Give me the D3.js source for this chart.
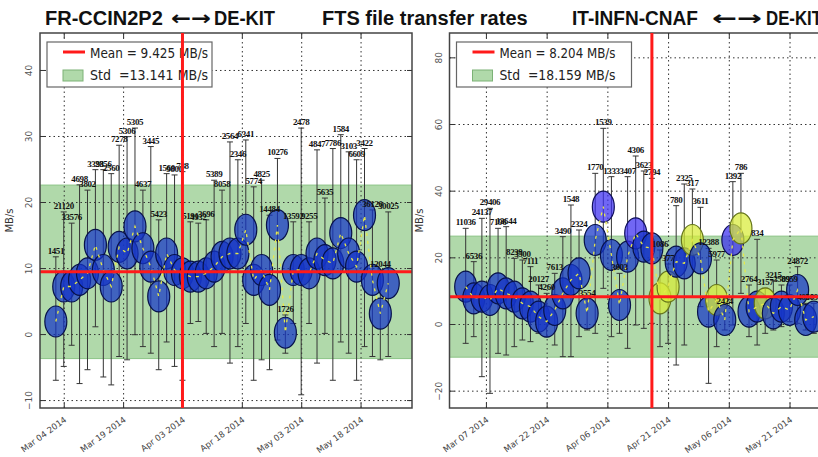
<!DOCTYPE html>
<html>
<head>
<meta charset="utf-8">
<script src="https://cdn.jsdelivr.net/npm/d3@7"></script>
<style>
  body { margin: 0; background: #fff; }
  svg { display: block; transform: translateZ(0); }
</style>
</head>
<body>
<div id="chart"></div>
<script>
// ---- data ----
const leftDates = [
  "2014-03-02","2014-03-04","2014-03-06","2014-03-08","2014-03-10","2014-03-12","2014-03-14","2014-03-16",
  "2014-03-18","2014-03-20","2014-03-22","2014-03-24","2014-03-26","2014-03-28","2014-03-30","2014-04-01",
  "2014-04-03","2014-04-05","2014-04-07","2014-04-09","2014-04-11","2014-04-13","2014-04-15","2014-04-17",
  "2014-04-19","2014-04-21","2014-04-23","2014-04-25","2014-04-27","2014-04-29","2014-05-01","2014-05-03",
  "2014-05-05","2014-05-07","2014-05-09","2014-05-11","2014-05-13","2014-05-15","2014-05-17","2014-05-19",
  "2014-05-21","2014-05-23","2014-05-25"];
const leftValues = [1.9, 7.2, 7.2, 8.2, 9.2, 13.5, 9.7, 7.2, 13.2, 12.2, 16.3, 13.0, 10.2, 5.7, 12.2, 9.7,
  9.2, 8.7, 8.7, 9.2, 10.2, 11.7, 12.2, 12.2, 15.8, 8.2, 9.7, 6.7, 16.5, 0.2, 9.7, 9.7,
  9.2, 12.2, 11.2, 10.7, 15.3, 12.2, 10.2, 18.0, 8.2, 3.1, 7.7];
const leftHigh = [11.7, 18.5, 16.8, 22.6, 21.8, 24.9, 24.9, 24.3, 28.6, 29.9, 31.2, 21.8, 28.4, 17.3, 24.3, 24.1,
  24.6, 17.0, 16.8, 17.3, 23.3, 21.8, 29.1, 26.4, 29.4, 22.3, 23.3, 18.0, 26.6, 2.9, 17.0, 31.2,
  17.0, 27.9, 20.6, 28.1, 30.2, 27.6, 26.4, 28.1, 18.8, 9.7, 18.5];
const leftLow = [-7.0, -4.9, -1.7, -7.5, -5.4, 1.1, -6.5, -7.7, -3.4, -3.9, -0.1, -1.9, -2.9, -5.4, -1.2, -4.9,
  -7.0, 1.6, 1.9, 0.1, -1.9, 0.1, -4.4, -1.9, 1.6, -7.0, -3.9, -5.4, -0.9, -2.9, 1.6, -9.2,
  1.6, -4.4, 0.1, -7.0, -1.2, -2.9, -7.0, -1.9, -3.4, -3.9, -3.4];
const leftLabels = ["1451","21120","33576","4698","3802","3393","2856","2560","7278","5306","5305","4637",
  "3445","5423","1560","9800","788","5191","4932","3696","5389","8058","2564","2346","6341","5774",
  "4825","14484","10276","1726","13592","2478","9255","4847","5635","7786","1584","3103","6609",
  "3422","36120","12044","30025"];

const rightDates = leftDates.concat(["2014-05-27"]);
const rightValues = [11.2, 7.7, 8.2, 7.2, 10.7, 9.2, 8.2, 6.2, 5.2, 2.2, 0.7, 4.2, 9.2, 13.2, 15.2, 3.2,
  25.2, 35.2, 20.7, 5.7, 20.2, 27.2, 23.2, 22.7, 7.7, 11.2, 18.7, 18.2, 25.2, 19.7, 3.7, 7.2,
  1.2, 25.2, 28.7, 3.7, 5.2, 6.2, 3.2, 5.2, 4.2, 10.2, 1.2, 2.2];
const rightHigh = [28.7, 18.7, 31.7, 34.7, 28.7, 29.2, 19.7, 19.2, 17.2, 11.7, 9.2, 15.2, 26.2, 35.7, 28.2, 7.4,
  45.2, 58.7, 44.2, 15.2, 44.2, 50.4, 45.9, 43.7, 22.2, 18.0, 35.5, 42.0, 40.5, 35.0, 22.7, 19.2,
  5.2, 42.7, 45.2, 11.7, 25.4, 10.7, 13.0, 11.7, 11.7, 17.2, 6.2, 6.2];
const rightLow = [-5.8, -3.8, -15.8, -20.8, -8.8, -9.3, -6.8, -4.8, -5.3, -2.8, -3.8, -6.3, -9.8, -9.8, -3.8, -1.8,
  -2.8, 10.7, -3.8, -2.8, -7.3, -0.3, -1.3, 0.2, -6.8, -5.8, -12.3, -6.3, 8.2, 5.2, -17.8, -6.8,
  -1.8, -0.3, 9.2, -3.8, -6.3, -2.8, -1.8, -0.8, 0.7, 0.2, -1.8, -2.8];
const rightLabels = ["11036","6536","24137","29406","7196","13644","8239","3500","7111","20127","4260","7613",
  "3490","1548","2324","3554","1770","1539","1333","3603","3407","4306","3623","2794","1086","377",
  "780","2325","317","3611","12388","5977","2424","1392","786","2764","834","3157","3215","3509",
  "8959","24872","4010","5098"];
// b = blue, v = violet blue, y = yellow green
const rightColors = ["b","b","b","b","b","b","b","b","b","b","b","b","b","b","b","b",
  "b","v","b","b","b","v","b","b","y","y","b","b","y","b","b","y",
  "b","v","y","b","b","y","b","b","b","b","b","b"];

const leftStats = { mean: 9.425, std: 13.141 };
const rightStats = { mean: 8.204, std: 18.159 };
const leftXTicks = ["2014-03-04","2014-03-19","2014-04-03","2014-04-18","2014-05-03","2014-05-18"];
const rightXTicks = ["2014-03-07","2014-03-22","2014-04-06","2014-04-21","2014-05-06","2014-05-21"];
const leftYTicks = [-10, 0, 10, 20, 30, 40];
const rightYTicks = [-20, 0, 20, 40, 60, 80];
const leftMarker = "2014-04-03";
const rightMarker = "2014-04-17";

// ---- drawing ----
const svg = d3.select("#chart").append("svg")
  .attr("width", 818)
  .attr("height", 457);

svg.append("rect").attr("width", 818).attr("height", 457).attr("fill", "#fff");

const parse = d3.timeParse("%Y-%m-%d");
const fills = { b: "#1535c8", v: "#3a2cf0", y: "#d8ec38" };
const edges = { b: "#08124a", v: "#10105a", y: "#66761c" };

function drawPanel(p) {
  const x = d3.scaleTime()
    .domain([parse("2014-02-26"), parse("2014-05-31")])
    .range([p.left, p.right]);
  const y = d3.scaleLinear().domain(p.yDomain).range([p.bottom, p.top]);
  const w = p.right - p.left;
  const h = p.bottom - p.top;

  svg.append("clipPath").attr("id", "clip" + p.id)
    .append("rect").attr("x", p.left).attr("y", p.top).attr("width", w).attr("height", h);

  const plot = svg.append("g").attr("clip-path", `url(#clip${p.id})`);

  // std band
  plot.append("rect")
    .attr("x", p.left).attr("width", w)
    .attr("y", y(p.stats.mean + p.stats.std))
    .attr("height", y(p.stats.mean - p.stats.std) - y(p.stats.mean + p.stats.std))
    .attr("fill", "#b0d9aa")
    .attr("stroke", "#8cc486");

  // dotted grid
  plot.append("g")
    .attr("transform", `translate(0,${p.bottom})`)
    .call(d3.axisBottom(x).tickValues(p.xTicks.map(parse)).tickSize(-h).tickFormat(""))
    .call(g => g.select(".domain").remove())
    .selectAll("line").attr("stroke", "#333").attr("stroke-dasharray", "1.5,3");
  plot.append("g")
    .attr("transform", `translate(${p.left},0)`)
    .call(d3.axisLeft(y).tickValues(p.yTicks).tickSize(-w).tickFormat(""))
    .call(g => g.select(".domain").remove())
    .selectAll("line").attr("stroke", "#333").attr("stroke-dasharray", "1.5,3");

  const pts = p.dates.map((d, i) => ({
    date: parse(d), v: p.values[i], lo: p.low[i], hi: p.high[i],
    label: p.labels[i], c: p.colors ? p.colors[i] : "b"
  }));

  // error bars
  const bars = plot.append("g").attr("stroke", "#353535").attr("stroke-width", 1)
    .selectAll("g").data(pts).join("g");
  bars.append("line")
    .attr("x1", d => x(d.date)).attr("x2", d => x(d.date))
    .attr("y1", d => y(d.lo)).attr("y2", d => y(d.hi));
  bars.append("line")
    .attr("x1", d => x(d.date) - 3).attr("x2", d => x(d.date) + 3)
    .attr("y1", d => y(d.hi)).attr("y2", d => y(d.hi));
  bars.append("line")
    .attr("x1", d => x(d.date) - 3).attr("x2", d => x(d.date) + 3)
    .attr("y1", d => y(d.lo)).attr("y2", d => y(d.lo));

  // ellipses
  plot.append("g").selectAll("ellipse").data(pts).join("ellipse")
    .attr("cx", d => x(d.date))
    .attr("cy", d => y(d.v))
    .attr("rx", 11)
    .attr("ry", 15.5)
    .attr("fill", d => fills[d.c])
    .attr("fill-opacity", 0.72)
    .attr("stroke", d => edges[d.c])
    .attr("stroke-width", 1.2);

  // yellow dashed line through centres
  plot.append("path").datum(pts)
    .attr("fill", "none")
    .attr("stroke", "#e6e84a")
    .attr("stroke-width", 1.3)
    .attr("stroke-dasharray", "3,5")
    .attr("d", d3.line().x(d => x(d.date)).y(d => y(d.v)));

  // counts above the bars
  plot.append("g")
    .selectAll("text").data(pts).join("text")
    .attr("x", d => x(d.date))
    .attr("y", d => y(d.hi) - 3)
    .attr("text-anchor", "middle")
    .style("font-family", "'Liberation Serif', serif")
    .style("font-weight", "bold")
    .style("font-size", "9px")
    .style("letter-spacing", "-0.4px")
    .attr("fill", "#111")
    .text(d => d.label);

  // mean line
  plot.append("line")
    .attr("x1", p.left).attr("x2", p.right)
    .attr("y1", y(p.stats.mean)).attr("y2", y(p.stats.mean))
    .attr("stroke", "#ff1a1a").attr("stroke-width", 3);

  // frame
  svg.append("rect")
    .attr("x", p.left).attr("y", p.top).attr("width", w).attr("height", h)
    .attr("fill", "none").attr("stroke", "#444").attr("stroke-width", 1.5);

  // inward ticks + labels
  const xAxis = svg.append("g")
    .attr("transform", `translate(0,${p.bottom})`)
    .call(d3.axisBottom(x).tickValues(p.xTicks.map(parse)).tickSize(-5)
      .tickFormat(d3.timeFormat("%b %d %Y")));
  xAxis.select(".domain").remove();
  xAxis.selectAll("line").attr("stroke", "#333");
  xAxis.selectAll("text")
    .attr("y", 0).attr("dy", 0)
    .attr("transform", "translate(3,13) rotate(-36)")
    .attr("text-anchor", "end")
    .style("font-family", "'DejaVu Sans', sans-serif")
    .style("font-size", "8.5px")
    .attr("fill", "#444");

  svg.append("g")
    .attr("transform", `translate(0,${p.top})`)
    .call(d3.axisTop(x).tickValues(p.xTicks.map(parse)).tickSize(-5).tickFormat(""))
    .call(g => g.select(".domain").remove())
    .selectAll("line").attr("stroke", "#333");

  const yAxis = svg.append("g")
    .attr("transform", `translate(${p.left},0)`)
    .call(d3.axisLeft(y).tickValues(p.yTicks).tickSize(-5));
  yAxis.select(".domain").remove();
  yAxis.selectAll("line").attr("stroke", "#333");
  yAxis.selectAll("text")
    .attr("x", 0).attr("dy", 0)
    .attr("transform", "translate(-8,0) rotate(-90)")
    .attr("text-anchor", "middle")
    .style("font-family", "'DejaVu Sans', sans-serif")
    .style("font-size", "9px")
    .attr("fill", "#555");

  svg.append("g")
    .attr("transform", `translate(${p.right},0)`)
    .call(d3.axisRight(y).tickValues(p.yTicks).tickSize(-5).tickFormat(""))
    .call(g => g.select(".domain").remove())
    .selectAll("line").attr("stroke", "#333");

  svg.append("text")
    .attr("transform", `translate(${p.left - 27},${(p.top + p.bottom) / 2}) rotate(-90)`)
    .attr("text-anchor", "middle")
    .style("font-family", "'DejaVu Sans', sans-serif")
    .style("font-size", "10px")
    .attr("fill", "#333")
    .text("MB/s");

  // legend
  const lg = svg.append("g").attr("transform", `translate(${p.left + 7},42)`);
  lg.append("rect").attr("width", p.legendW).attr("height", 45)
    .attr("fill", "#fff").attr("stroke", "#666").attr("stroke-width", 1.2);
  lg.append("line").attr("x1", 16).attr("x2", 38).attr("y1", 10).attr("y2", 10)
    .attr("stroke", "#ff1a1a").attr("stroke-width", 3);
  lg.append("rect").attr("x", 16).attr("y", 28).attr("width", 20).attr("height", 11)
    .attr("fill", "#b0d9aa").attr("stroke", "#7cb276");
  lg.append("text").attr("x", 43).attr("y", 16)
    .attr("textLength", p.legendTextW).attr("lengthAdjust", "spacingAndGlyphs")
    .style("font-family", "'DejaVu Sans', sans-serif").style("font-size", "13.5px")
    .attr("fill", "#222")
    .text(`Mean = ${p.stats.mean.toFixed(3)} MB/s`);
  lg.append("text").attr("x", 43).attr("y", 38)
    .attr("textLength", p.legendTextW).attr("lengthAdjust", "spacingAndGlyphs")
    .style("font-family", "'DejaVu Sans', sans-serif").style("font-size", "13.5px")
    .style("white-space", "pre")
    .attr("fill", "#222")
    .text(`Std  =${p.stats.std.toFixed(3)} MB/s`);

  // event marker
  svg.append("line")
    .attr("x1", x(parse(p.marker))).attr("x2", x(parse(p.marker)))
    .attr("y1", p.top).attr("y2", p.bottom)
    .attr("stroke", "#ff1a1a").attr("stroke-width", 3);
}

drawPanel({
  id: "L", left: 40, right: 412, top: 33, bottom: 408,
  yDomain: [-11.2, 45.6], yTicks: leftYTicks, xTicks: leftXTicks,
  dates: leftDates, values: leftValues, low: leftLow, high: leftHigh, labels: leftLabels,
  stats: leftStats, marker: leftMarker, legendW: 165, legendTextW: 118
});

drawPanel({
  id: "R", left: 449.5, right: 830, top: 33, bottom: 408,
  yDomain: [-25.2, 87.3], yTicks: rightYTicks, xTicks: rightXTicks,
  dates: rightDates, values: rightValues, low: rightLow, high: rightHigh, labels: rightLabels,
  colors: rightColors, stats: rightStats, marker: rightMarker, legendW: 175, legendTextW: 116
});

// titles
const titleFont = g => g.style("font-family", "'Liberation Sans', Arial, sans-serif")
  .style("font-weight", "bold").style("font-size", "20px").attr("fill", "#111");
const arrowFont = g => g.style("font-family", "'DejaVu Sans', sans-serif")
  .style("font-weight", "bold").style("font-size", "20px").attr("fill", "#111");
svg.append("text").attr("x", 45).attr("y", 25).call(titleFont).text("FR-CCIN2P2");
svg.append("text").attr("x", 171).attr("y", 25).attr("textLength", 40).attr("lengthAdjust", "spacingAndGlyphs")
  .call(arrowFont).text("\u2190\u2192");
svg.append("text").attr("x", 214).attr("y", 25).attr("textLength", 61).attr("lengthAdjust", "spacingAndGlyphs")
  .call(titleFont).text("DE-KIT");
svg.append("text").attr("x", 322).attr("y", 25).call(titleFont).text("FTS file transfer rates");
svg.append("text").attr("x", 572).attr("y", 25).attr("textLength", 126).attr("lengthAdjust", "spacingAndGlyphs")
  .call(titleFont).text("IT-INFN-CNAF");
svg.append("text").attr("x", 712).attr("y", 25).attr("textLength", 50).attr("lengthAdjust", "spacingAndGlyphs")
  .call(arrowFont).text("\u2190\u2192");
svg.append("text").attr("x", 766).attr("y", 25).attr("textLength", 56).attr("lengthAdjust", "spacingAndGlyphs")
  .call(titleFont).text("DE-KIT");
</script>
</body>
</html>
